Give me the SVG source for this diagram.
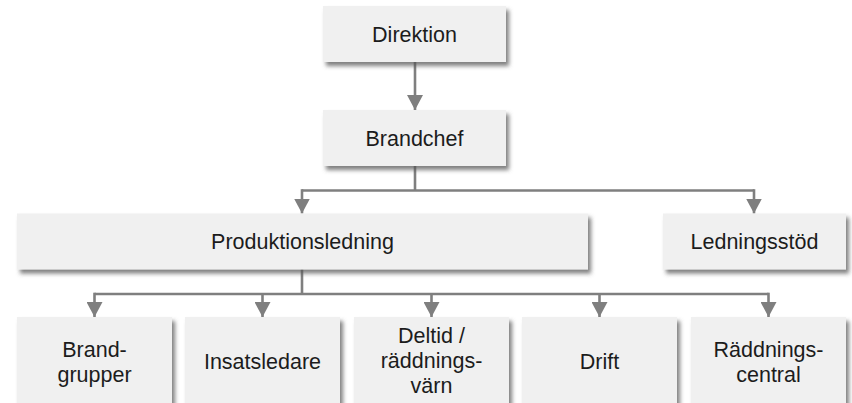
<svg xmlns="http://www.w3.org/2000/svg" width="852" height="403" viewBox="0 0 852 403">
  <defs>
    <filter id="shadow" x="-10%" y="-20%" width="130%" height="160%">
      <feDropShadow dx="3" dy="4" stdDeviation="2.2" flood-color="#555555" flood-opacity="0.75"/>
    </filter>
    <marker id="arrow" viewBox="0 0 15 16" refX="15" refY="8" markerWidth="15" markerHeight="16" markerUnits="userSpaceOnUse" orient="auto">
      <path d="M0,0 L15,8 L0,16 z" fill="#7f7f7f"/>
    </marker>
  </defs>
  <style>
    .box { fill: #f0f0f0; filter: url(#shadow); }
    .lbl { font-family: "Liberation Sans", Arial, sans-serif; font-size: 21.5px; fill: #1c1c1c; text-anchor: middle; }
    .wire { fill: none; stroke: #7f7f7f; stroke-width: 2.6; }
  </style>

  <rect width="852" height="403" fill="#ffffff"/>

  <!-- connectors -->
  <g id="connectors">
    <path class="wire" d="M415,62 V110" marker-end="url(#arrow)"/>
    <path class="wire" d="M415,166 V190.5"/>
    <path class="wire" d="M302,190.5 H754"/>
    <path class="wire" d="M302,189.2 V213.5" marker-end="url(#arrow)"/>
    <path class="wire" d="M754,189.2 V213.5" marker-end="url(#arrow)"/>
    <path class="wire" d="M302,269 V294"/>
    <path class="wire" d="M94.5,294 H768.5"/>
    <path class="wire" d="M94.5,292.7 V317" marker-end="url(#arrow)"/>
    <path class="wire" d="M262.5,294 V317" marker-end="url(#arrow)"/>
    <path class="wire" d="M431.5,294 V317" marker-end="url(#arrow)"/>
    <path class="wire" d="M599.5,294 V317" marker-end="url(#arrow)"/>
    <path class="wire" d="M768.5,292.7 V317" marker-end="url(#arrow)"/>
  </g>

  <!-- top level -->
  <g id="direktion">
    <rect class="box" x="323" y="6" width="183" height="56"/>
    <text class="lbl" x="414.5" y="41.5">Direktion</text>
  </g>
  <g id="brandchef">
    <rect class="box" x="323" y="110" width="183" height="56"/>
    <text class="lbl" x="414.5" y="145.5">Brandchef</text>
  </g>

  <!-- second level -->
  <g id="produktionsledning">
    <rect class="box" x="17" y="213.5" width="571" height="56"/>
    <text class="lbl" x="302.5" y="249">Produktionsledning</text>
  </g>
  <g id="ledningsstod">
    <rect class="box" x="663" y="213.5" width="183" height="56"/>
    <text class="lbl" x="754.5" y="249">Ledningsstöd</text>
  </g>

  <!-- third level -->
  <g id="brandgrupper">
    <rect class="box" x="17" y="317" width="155" height="90"/>
    <text class="lbl" x="94.5" y="356.5">Brand-</text>
    <text class="lbl" x="94.5" y="381.5">grupper</text>
  </g>
  <g id="insatsledare">
    <rect class="box" x="185" y="317" width="155" height="90"/>
    <text class="lbl" x="262.5" y="369">Insatsledare</text>
  </g>
  <g id="deltid">
    <rect class="box" x="354" y="317" width="155" height="90"/>
    <text class="lbl" x="431.5" y="343">Deltid /</text>
    <text class="lbl" x="431.5" y="368">räddnings-</text>
    <text class="lbl" x="431.5" y="393">värn</text>
  </g>
  <g id="drift">
    <rect class="box" x="522" y="317" width="155" height="90"/>
    <text class="lbl" x="599.5" y="369">Drift</text>
  </g>
  <g id="raddningscentral">
    <rect class="box" x="691" y="317" width="155" height="90"/>
    <text class="lbl" x="768.5" y="356.5">Räddnings-</text>
    <text class="lbl" x="768.5" y="381.5">central</text>
  </g>
</svg>
